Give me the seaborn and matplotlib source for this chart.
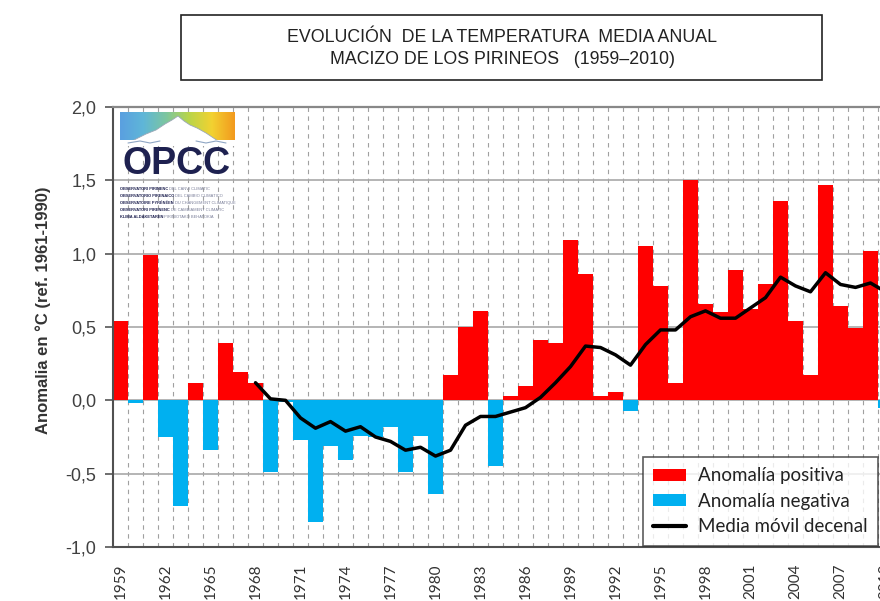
import numpy as np
import pandas as pd
import matplotlib
matplotlib.use("Agg")
import matplotlib.pyplot as plt
import seaborn as sns
from matplotlib.patches import Patch, Rectangle, Polygon
from matplotlib.lines import Line2D
from matplotlib import font_manager as fm
from matplotlib.colors import LinearSegmentedColormap
import matplotlib.transforms as mtrans

# ---------------- data ----------------
years = list(range(1959, 2011))
anomaly = [0.54, -0.02, 0.99, -0.25, -0.72, 0.12, -0.34, 0.39, 0.19, 0.12,
           -0.49, -0.01, -0.27, -0.83, -0.31, -0.41, -0.24, -0.25, -0.18, -0.49,
           -0.24, -0.64, 0.17, 0.50, 0.61, -0.45, 0.03, 0.10, 0.41, 0.39,
           1.09, 0.86, 0.03, 0.06, -0.07, 1.05, 0.78, 0.12, 1.50, 0.66,
           0.60, 0.89, 0.62, 0.79, 1.36, 0.54, 0.17, 1.47, 0.64, 0.49,
           1.02, -0.05]
ma_years = list(range(1968, 2011))
moving_avg = [0.12, 0.01, 0.00, -0.12, -0.19, -0.145, -0.21, -0.18, -0.25, -0.28,
              -0.34, -0.32, -0.38, -0.34, -0.17, -0.11, -0.11, -0.08, -0.05, 0.02,
              0.12, 0.23, 0.37, 0.36, 0.31, 0.24, 0.38, 0.48, 0.48, 0.57,
              0.61, 0.56, 0.56, 0.63, 0.70, 0.84, 0.78, 0.74, 0.87, 0.79,
              0.77, 0.80, 0.74]
tick_years = list(range(1959, 2011, 3))
y_ticks = [-1.0, -0.5, 0.0, 0.5, 1.0, 1.5, 2.0]
title_lines = ["EVOLUCIÓN  DE LA TEMPERATURA  MEDIA ANUAL",
               "MACIZO DE LOS PIRINEOS   (1959–2010)"]
legend_labels = ["Anomalía positiva", "Anomalía negativa", "Media móvil decenal"]
ylabel = "Anomalia en °C (ref. 1961-1990)"

RED = "#FF0000"
BLUE = "#00B0F0"

df = pd.DataFrame({"year": years, "value": anomaly})
df["sign"] = np.where(df["value"] >= 0, "pos", "neg")

sns.set_style("white")
names = {f.name for f in fm.fontManager.ttflist}
narrow = "Liberation Sans Narrow" if "Liberation Sans Narrow" in names else None
plt.rcParams["font.family"] = ["Liberation Sans", "DejaVu Sans"]

W, H = 880, 601
fig = plt.figure(figsize=(W / 100, H / 100), dpi=100)

def fx(px):
    return px / W

def fy(py):
    return 1 - py / H

ax_left, ax_right, ax_top, ax_bot = 113, 113 + 52 * 15, 107, 547
ax = fig.add_axes([fx(ax_left), fy(ax_bot), (ax_right - ax_left) / W, (ax_bot - ax_top) / H])

sns.barplot(data=df, x="year", y="value", hue="sign",
            palette={"pos": RED, "neg": BLUE}, hue_order=["pos", "neg"],
            dodge=False, width=1.0, native_scale=True, saturation=1,
            legend=False, linewidth=0, ax=ax)
sns.lineplot(x=ma_years, y=moving_avg, color="black", lw=2.5, ax=ax)

ax.set_xlim(1958.5, 2010.5)
ax.set_ylim(-1.0, 2.0)
ax.set_axisbelow(True)
ax.set_yticks(y_ticks)
ax.set_yticklabels([f"{v:.1f}".replace(".", ",") for v in y_ticks],
                   fontsize=13, color="#404040")
ax.set_xticks(tick_years)
ax.set_xticklabels([str(y) for y in tick_years], rotation=90, fontsize=11,
                   color="#333333", family=["Lato", "DejaVu Sans"], va="top")
offset = mtrans.ScaledTranslation(4 / 100, 0, fig.dpi_scale_trans)
for lbl in ax.get_xticklabels():
    lbl.set_transform(lbl.get_transform() + offset)
ax.set_xticks([y + 0.5 for y in years[:-1]], minor=True)
ax.tick_params(axis="x", which="both", length=0, pad=12)
ax.tick_params(axis="y", which="major", length=6, width=1.2, color="#555555",
               direction="out", pad=6, left=True)
ax.grid(which="major", axis="y", color="#A8A8A8", lw=1.2, ls="-")
ax.grid(which="minor", axis="x", color="#A0A0A0", lw=0.8, ls=(0, (4, 4)))
ax.grid(which="major", axis="x", visible=False)
ax.set_xlabel("")
ax.set_ylabel("")
for s in ["left", "bottom"]:
    ax.spines[s].set_color("#505050")
    ax.spines[s].set_linewidth(1.5)
ax.spines["top"].set_color("#888888")
ax.spines["top"].set_linewidth(1.6)
ax.spines["right"].set_visible(False)

fig.text(fx(43), fy(310), ylabel, rotation=90, ha="center", va="center",
         fontsize=12, fontweight="bold", color="#333333")

# legend
handles = [Patch(facecolor=RED, edgecolor="none"),
           Patch(facecolor=BLUE, edgecolor="none"),
           Line2D([0], [0], color="black", lw=3)]
leg = fig.legend(handles, legend_labels, loc="upper left",
                 bbox_to_anchor=(fx(643), fy(457)), bbox_transform=fig.transFigure,
                 borderaxespad=0, frameon=True, fancybox=False,
                 prop={"family": ["Lato", "DejaVu Sans"], "size": 13.5},
                 handlelength=1.75, handleheight=0.6, handletextpad=0.65,
                 labelspacing=0.45, borderpad=0.55)
leg.get_frame().set_edgecolor("#333333")
leg.get_frame().set_linewidth(1.2)
for t in leg.get_texts():
    t.set_color("#222222")

# title box
fig.add_artist(Rectangle((fx(181), fy(80)), (822 - 181) / W, 65 / H,
                         transform=fig.transFigure, fill=False,
                         ec="#222222", lw=1.2))
tfam = [narrow] if narrow else ["Liberation Sans"]
tsize = 15 if narrow else 12.8
fig.text(fx(502), fy(38), title_lines[0], ha="center", va="center",
         fontsize=tsize, family=tfam, color="#222222")
fig.text(fx(502), fy(60), title_lines[1], ha="center", va="center",
         fontsize=tsize, family=tfam, color="#222222")

# OPCC logo
lx0, lx1, ly0, ly1 = 116, 240, 108, 224
lax = fig.add_axes([fx(lx0), fy(ly1), (lx1 - lx0) / W, (ly1 - ly0) / H])
lax.set_xlim(lx0, lx1)
lax.set_ylim(ly1, ly0)
lax.axis("off")
lax.patch.set_alpha(0)
cmap = LinearSegmentedColormap.from_list(
    "opcc", ["#5AA0E0", "#5FB6D8", "#7CC6A0", "#B9D54A", "#F2D231", "#F39A1E"])
grad = np.tile(np.linspace(0, 1, 200), (20, 1))
lax.imshow(grad, cmap=cmap, extent=[120, 235, 140, 112], aspect="auto", zorder=1)
mountain = [(132, 141), (146, 134), (156, 130), (165, 124), (172, 120), (178, 116),
            (184, 121), (190, 125), (197, 128), (206, 133), (218, 141)]
lax.add_patch(Polygon(mountain, closed=True, fc="white", ec="#9AA7B8", lw=0.6, zorder=2))
lax.add_patch(Rectangle((118, 140), 120, 6, fc="white", ec="none", zorder=2))
lax.plot([128, 140, 150, 160], [143, 141, 143, 141], color="#8FA6C4", lw=0.8, zorder=3)
lax.plot([196, 206, 216, 226], [141, 143, 141, 143], color="#8FA6C4", lw=0.8, zorder=3)
lax.text(177, 164, "OPCC", ha="center", va="center", fontsize=27, fontweight="bold",
         color="#1E2150", family=["Liberation Sans", "DejaVu Sans"], zorder=3)
small = [("OBSERVATORI PIRINENC", "DEL CANVI CLIMÀTIC"),
         ("OBSERVATORIO PIRENAICO", "DEL CAMBIO CLIMÁTICO"),
         ("OBSERVATOIRE PYRÉNÉEN", "DU CHANGEMENT CLIMATIQUE"),
         ("OBSERVATORI PIRENENC", "DE CAMBIAMENT CLIMATIC"),
         ("KLIMA ALDAKETAREN", "PIRINIOTAKO BEHATOKIA")]
for i, (a, b) in enumerate(small):
    yy = 189 + i * 7
    t1 = lax.text(120, yy, a + " ", ha="left", va="center", fontsize=2.9,
                  color="#1E2150", fontweight="bold", zorder=3)
    lax.annotate(b, xy=(1, 0.5), xycoords=t1, ha="left", va="center",
                 fontsize=2.9, color="#7A7F99", zorder=3)

fig.savefig("out.png", dpi=100)
